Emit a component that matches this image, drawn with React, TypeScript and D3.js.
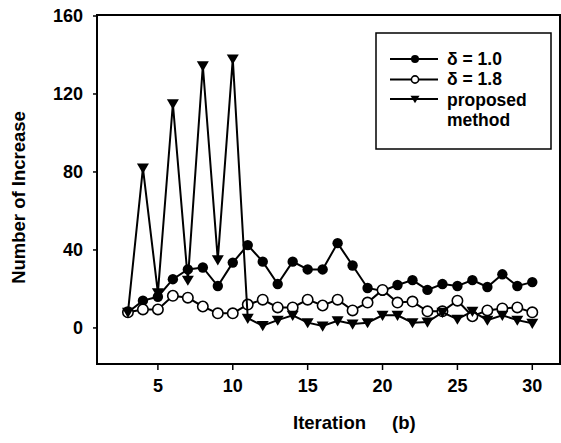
import React from "react";
import * as d3 from "d3";

const iterations = [3,4,5,6,7,8,9,10,11,12,13,14,15,16,17,18,19,20,21,22,23,24,25,26,27,28,29,30];
const delta10 = [8,14,16,25,30,31,21.5,33.5,42.5,34,22.5,34,30,30,43.5,32,20.5,19,22,24.5,19.5,22.5,21.5,24.5,21,27.5,21.5,23.5];
const delta18 = [8,9.5,9.5,16.5,15.5,11,7.5,7.5,12,14.5,10.5,10.5,14.5,11.5,14.5,9,13,19.5,13,13.5,8.5,8.5,14,6,9,10,10.5,8];
const proposed = [8,82,18,115,24.5,134.5,35,138,5,1.2,4,6.5,2.7,1,3.7,2,2.7,6.5,6.5,2.7,3,8,4.5,8.5,4,6.5,4,2.4];
const yTicks = [0,40,80,120,160];
const xTicks = [5,10,15,20,25,30];
const legendLabels = ["δ = 1.0", "δ = 1.8", "proposed", "method"];

const W = 561, H = 443;
const left = 97, right = 560, top = 15, bottom = 364;

export default function App() {
  const x = d3.scaleLinear().domain([1, 31.85]).range([left + 1, right]);
  const y = d3.scaleLinear().domain([-18.5, 160]).range([bottom, top + 1]);
  const line = d3.line<number>().x((_, i) => x(iterations[i])).y(d => y(d));
  const font = "'Liberation Sans', Arial, sans-serif";

  const tri = (cx: number, cy: number, s = 6) =>
    `M${cx - s},${cy - s * 0.75}L${cx + s},${cy - s * 0.75}L${cx},${cy + s * 0.95}Z`;

  const series = [
    { data: delta10, kind: "filled" },
    { data: delta18, kind: "open" },
    { data: proposed, kind: "tri" },
  ];

  const marker = (kind: string, cx: number, cy: number, key: any, small = false) => {
    if (kind === "filled") return <circle key={key} cx={cx} cy={cy} r={small ? 4 : 5.2} fill="#000" />;
    if (kind === "open") return <circle key={key} cx={cx} cy={cy} r={small ? 3.6 : 5.2} fill="#fff" stroke="#000" strokeWidth={1.6} />;
    return <path key={key} d={tri(cx, cy, small ? 4.5 : 6)} fill="#000" />;
  };

  const legendRows = [59, 79.5, 99];
  const labelRows = [58.5, 79, 99.5, 119.5];

  return (
    <svg width={W} height={H} style={{ position: "absolute", left: 0, top: 0, background: "#fff" }} fontFamily={font}>
      <rect x={left} y={top} width={right - left} height={bottom - top} fill="none" stroke="#000" strokeWidth={2} />
      {yTicks.map(t => (
        <g key={"y" + t}>
          <line x1={left - 4} x2={left} y1={y(t)} y2={y(t)} stroke="#000" strokeWidth={1.5} />
          <text x={83} y={y(t)} dy="0.36em" textAnchor="end" fontSize={18} fontWeight="bold">{t}</text>
        </g>
      ))}
      {xTicks.map(t => (
        <g key={"x" + t}>
          <line x1={x(t)} x2={x(t)} y1={bottom} y2={bottom + 6} stroke="#000" strokeWidth={1.5} />
          <text x={x(t)} y={392} textAnchor="middle" fontSize={18} fontWeight="bold">{t}</text>
        </g>
      ))}
      <text transform={`translate(25,${(105 + 290) / 2}) rotate(-90)`} textAnchor="middle" fontSize={18.5} fontWeight="bold">Number of Increase</text>
      <text x={293} y={429} fontSize={18.5} fontWeight="bold">Iteration</text>
      <text x={392} y={429} fontSize={18.5} fontWeight="bold">(b)</text>
      {series.map((s, si) => (
        <g key={"s" + si}>
          <path d={line(s.data) || ""} fill="none" stroke="#000" strokeWidth={2} />
          {s.data.map((v, i) => marker(s.kind, x(iterations[i]), y(v), i))}
        </g>
      ))}
      <rect x={376} y={33} width={175} height={116} fill="#fff" stroke="#000" strokeWidth={1.5} />
      {series.map((s, si) => (
        <g key={"l" + si}>
          <line x1={390} x2={438} y1={legendRows[si]} y2={legendRows[si]} stroke="#000" strokeWidth={2} />
          {marker(s.kind, 415, legendRows[si], "m", true)}
        </g>
      ))}
      {legendLabels.map((l, i) => (
        <text key={"t" + i} x={447} y={labelRows[i]} dy="0.36em" fontSize={17.5} fontWeight="bold">{l}</text>
      ))}
    </svg>
  );
}
